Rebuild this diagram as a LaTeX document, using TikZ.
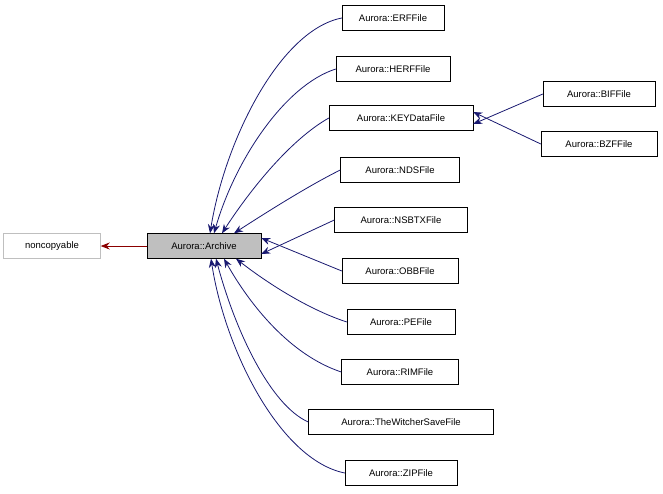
\documentclass[tikz,border=0pt]{standalone}
\usepackage{fontspec}
\setmainfont{Liberation Sans}
\usetikzlibrary{arrows.meta}
\begin{document}
\begin{tikzpicture}[x=1pt,y=-1pt,
  box/.style={draw=black,fill=white,font=\fontsize{9.5}{11}\selectfont,minimum height=25,inner xsep=4,anchor=center},
  inh/.style={draw={rgb,255:red,25;green,25;blue,112},{Stealth[length=9,width=7]}-,thick,line width=0.8},
  priv/.style={draw={rgb,255:red,139;green,0;blue,0},{Stealth[length=9,width=7]}-,line width=0.8}]
\useasboundingbox (0,0) rectangle (663,493);
\node[box,draw={rgb,255:red,191;green,191;blue,191},minimum width=97] (nc) at (52,246) {noncopyable};
\node[box,fill={rgb,255:red,191;green,191;blue,191},minimum width=114] (ar) at (204,246) {Aurora::Archive};
\node[box,minimum width=102] (erf) at (393,18) {Aurora::ERFFile};
\node[box,minimum width=114] (herf) at (393,69) {Aurora::HERFFile};
\node[box,minimum width=144] (key) at (401,118) {Aurora::KEYDataFile};
\node[box,minimum width=112] (bif) at (599,94) {Aurora::BIFFile};
\node[box,minimum width=116] (bzf) at (599,144) {Aurora::BZFFile};
\node[box,minimum width=119] (nds) at (400,170) {Aurora::NDSFile};
\node[box,minimum width=133] (nsb) at (401,220) {Aurora::NSBTXFile};
\node[box,minimum width=116] (obb) at (400,271) {Aurora::OBBFile};
\node[box,minimum width=108] (pe) at (401,322) {Aurora::PEFile};
\node[box,minimum width=117] (rim) at (400,372) {Aurora::RIMFile};
\node[box,minimum width=185] (tw) at (401,422) {Aurora::TheWitcherSaveFile};
\node[box,minimum width=112] (zip) at (401,473) {Aurora::ZIPFile};
\draw[priv] (nc.east) -- (ar.west);
\draw[inh] ([xshift=6]ar.north) .. controls (225,140) and (280,30) .. (erf.west);
\draw[inh] ([xshift=10]ar.north) .. controls (235,160) and (285,85) .. (herf.west);
\draw[inh] ([xshift=18]ar.north) .. controls (250,190) and (290,140) .. (key.west);
\draw[inh] ([xshift=30]ar.north) .. controls (270,210) and (310,185) .. (nds.west);
\draw[inh] ([yshift=-8]ar.east) -- (nsb.west);
\draw[inh] ([yshift=8]ar.east) -- (obb.west);
\draw[inh] ([xshift=32]ar.south) .. controls (270,285) and (310,310) .. (pe.west);
\draw[inh] ([xshift=20]ar.south) .. controls (250,305) and (290,355) .. (rim.west);
\draw[inh] ([xshift=12]ar.south) .. controls (235,330) and (270,405) .. (tw.west);
\draw[inh] ([xshift=7]ar.south) .. controls (225,350) and (280,460) .. (zip.west);
\draw[inh] ([yshift=-6]key.east) -- (bif.west);
\draw[inh] ([yshift=6]key.east) -- (bzf.west);
\end{tikzpicture}
\end{document}
